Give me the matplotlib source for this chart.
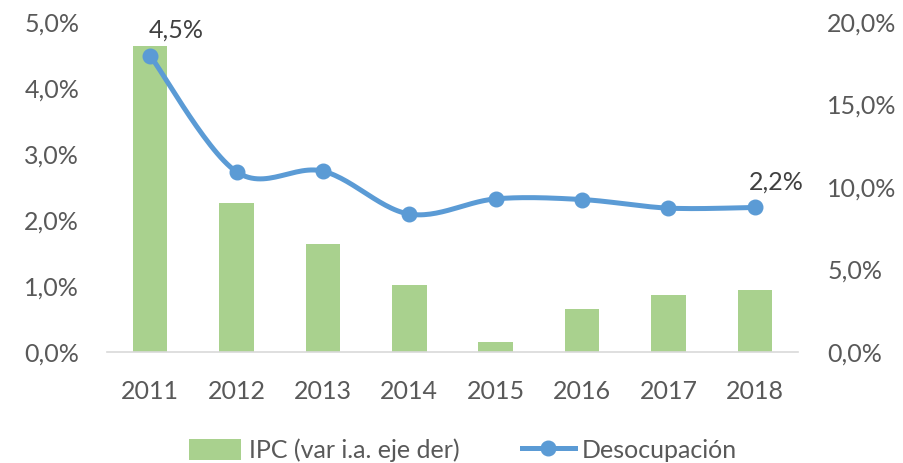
import matplotlib.pyplot as plt
import numpy as np
from matplotlib.ticker import FuncFormatter

years = ["2011", "2012", "2013", "2014", "2015", "2016", "2017", "2018"]
ipc = [18.56, 9.04, 6.53, 4.04, 0.61, 2.61, 3.48, 3.74]
desocupacion = [4.49, 2.73, 2.74, 2.09, 2.32, 2.31, 2.18, 2.19]

left_ticks = [0, 1, 2, 3, 4, 5]
right_ticks = [0, 5, 10, 15, 20]

plt.rcParams["font.family"] = ["Lato", "DejaVu Sans"]

green = "#A9D18E"
blue = "#5B9BD5"
gray = "#595959"


def smooth(x, y, n=30):
    # bezier smoothing through the points, like a spreadsheet smoothed line
    x = np.asarray(x, float)
    y = np.asarray(y, float)
    px = np.concatenate([[x[0]], x, [x[-1]]])
    py = np.concatenate([[y[0]], y, [y[-1]]])
    xs, ys = [], []
    t = np.linspace(0, 1, n)
    for i in range(1, len(px) - 2):
        p0 = np.array([px[i], py[i]])
        p3 = np.array([px[i + 1], py[i + 1]])
        p1 = p0 + (np.array([px[i + 1], py[i + 1]]) - np.array([px[i - 1], py[i - 1]])) / 6
        p2 = p3 - (np.array([px[i + 2], py[i + 2]]) - np.array([px[i], py[i]])) / 6
        pts = ((1 - t) ** 3)[:, None] * p0 + (3 * (1 - t) ** 2 * t)[:, None] * p1 \
            + (3 * (1 - t) * t ** 2)[:, None] * p2 + (t ** 3)[:, None] * p3
        xs.extend(pts[:, 0])
        ys.extend(pts[:, 1])
    return xs, ys


fig = plt.figure(figsize=(9.04, 4.63), dpi=100)
ax = fig.add_axes([107 / 904, 111 / 463, 691 / 904, 330 / 463])
ax2 = ax.twinx()

x = np.arange(len(years))

bars = ax2.bar(x, ipc, width=0.4, color=green, zorder=1, label="IPC (var i.a. eje der)")

ax.set_zorder(ax2.get_zorder() + 1)
ax.patch.set_visible(False)

sx, sy = smooth(x, desocupacion)
ax.plot(sx, sy, color=blue, linewidth=3.6, solid_capstyle="round", zorder=3)
ax.plot(x, desocupacion, linestyle="none", marker="o", markersize=10.5,
        color=blue, zorder=4)
line_handle, = ax.plot([], [], color=blue, linewidth=3.6, marker="o", markersize=10.5,
                       label="Desocupación")

ax.set_xlim(-0.5, len(years) - 0.5)
ax.set_ylim(0, 5)
ax2.set_ylim(0, 20)
ax.set_yticks(left_ticks)
ax2.set_yticks(right_ticks)

fmt = FuncFormatter(lambda v, p: f"{v:.1f}%".replace(".", ","))
ax.yaxis.set_major_formatter(fmt)
ax2.yaxis.set_major_formatter(fmt)
ax.set_xticks(x)
ax.set_xticklabels(years)

for a in (ax, ax2):
    for s in a.spines.values():
        s.set_visible(False)
    a.tick_params(length=0, labelsize=18, labelcolor=gray)
ax.spines["bottom"].set_visible(True)
ax.spines["bottom"].set_color("#D9D9D9")
ax.spines["bottom"].set_linewidth(1.2)
ax.tick_params(axis="y", pad=20)
ax2.tick_params(axis="y", pad=21)
ax.tick_params(axis="x", pad=20)

for i in (0, len(years) - 1):
    ax.annotate(f"{desocupacion[i]:.1f}%".replace(".", ","), (x[i], desocupacion[i]),
                xytext=(-4 if i else -1, 10), textcoords="offset points",
                ha="left", va="bottom", fontsize=18, color="#404040")

fig.legend(handles=[bars, line_handle], loc="center", bbox_to_anchor=(463 / 904, 13 / 463),
           ncol=2, frameon=False, fontsize=18, labelcolor=gray,
           handlelength=2.1, handleheight=0.9, columnspacing=2.5, handletextpad=0.3)

fig.savefig("out.png", dpi=100)
